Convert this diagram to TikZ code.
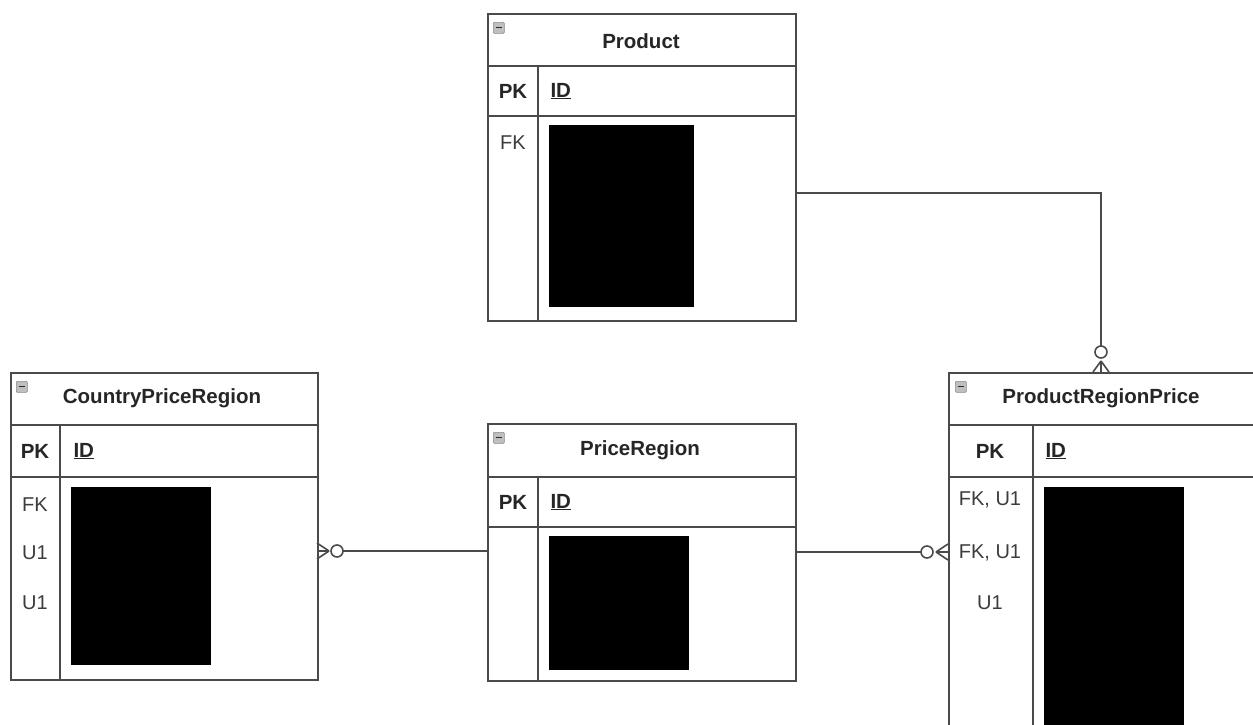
\documentclass[tikz,border=0pt]{standalone}
\usepackage{fontspec}
\setmainfont{Liberation Sans}
\definecolor{lc}{HTML}{4A4A4A}
\definecolor{tc}{HTML}{3C3C3C}
\definecolor{ic}{HTML}{8A8A8A}
\begin{document}
\begin{tikzpicture}[x=1pt,y=-1pt,
  conn/.style={draw=lc, line width=1.6pt},
  tbl/.style={draw=lc, line width=1.6pt, anchor=north west, inner sep=0pt, fill=white},
  sep/.style={draw=lc, line width=1.6pt},
  ttl/.style={font=\fontsize{20.5}{23}\selectfont\bfseries, text=black!85},
  key/.style={font=\fontsize{20}{23}\selectfont, text=tc},
  pk/.style={font=\fontsize{20.5}{23}\selectfont\bfseries, text=black!85},
  hid/.style={fill=black, draw=none, anchor=north west, inner sep=0pt},
  icon/.style={fill=ic!55, draw=ic, line width=0.7pt, rounded corners=1pt, anchor=north west, inner sep=0pt, minimum width=11pt, minimum height=11pt}
]
\useasboundingbox (0,0) rectangle (1253,724);

% ---------- Product ----------
\node[tbl, minimum width=308pt, minimum height=307pt] (product) at (487,13) {};
\node[icon] (producticon) at (493,22) {};
\draw[ic!30!black, line width=1pt] (495.5,27.5) -- (501.5,27.5);
\node[ttl] (producttitle) at (641,41) {Product};
\draw[sep] (487,66) -- (795,66);
\draw[sep] (487,116) -- (795,116);
\draw[sep] (538,66) -- (538,320);
\node[pk] (productpk) at (513,91) {PK};
\node[pk, anchor=west] (productid) at (547,91) {\underline{ID}};
\node[key] (productfk) at (513,143) {FK};
\node[hid, minimum width=145pt, minimum height=182pt] (producthid) at (549,125) {};

% ---------- CountryPriceRegion ----------
\node[tbl, minimum width=307pt, minimum height=307pt] (cpr) at (10,372) {};
\node[icon] (cpricon) at (16,381) {};
\draw[ic!30!black, line width=1pt] (18.5,386.5) -- (24.5,386.5);
\node[ttl] (cprtitle) at (162,398) {CountryPriceRegion};
\draw[sep] (10,425) -- (317,425);
\draw[sep] (10,477) -- (317,477);
\draw[sep] (60,425) -- (60,679);
\node[pk] (cprpk) at (35,451) {PK};
\node[pk, anchor=west] (cprid) at (70,451) {\underline{ID}};
\node[key] (cprfk) at (35,505) {FK};
\node[key] (cpru1a) at (35,553) {U1};
\node[key] (cpru1b) at (35,603) {U1};
\node[hid, minimum width=140pt, minimum height=178pt] (cprhid) at (71,487) {};

% ---------- PriceRegion ----------
\node[tbl, minimum width=308pt, minimum height=257pt] (pr) at (487,423) {};
\node[icon] (pricon) at (493,432) {};
\draw[ic!30!black, line width=1pt] (495.5,437.5) -- (501.5,437.5);
\node[ttl] (prtitle) at (640,450) {PriceRegion};
\draw[sep] (487,477) -- (795,477);
\draw[sep] (487,527) -- (795,527);
\draw[sep] (538,477) -- (538,680);
\node[pk] (prpk) at (513,502) {PK};
\node[pk, anchor=west] (prid) at (547,502) {\underline{ID}};
\node[hid, minimum width=140pt, minimum height=134pt] (prhid) at (549,536) {};

% ---------- ProductRegionPrice ----------
\node[tbl, minimum width=310pt, minimum height=380pt] (prp) at (948,372) {};
\node[icon] (prpicon) at (955,381) {};
\draw[ic!30!black, line width=1pt] (957.5,386.5) -- (963.5,386.5);
\node[ttl] (prptitle) at (1101,398) {ProductRegionPrice};
\draw[sep] (948,425) -- (1258,425);
\draw[sep] (948,477) -- (1258,477);
\draw[sep] (1033,425) -- (1033,730);
\node[pk] (prppk) at (990,451) {PK};
\node[pk, anchor=west] (prpid) at (1042,451) {\underline{ID}};
\node[key] (prpfk1) at (990,500) {FK, U1};
\node[key] (prpfk2) at (990,553) {FK, U1};
\node[key] (prpu1) at (990,603) {U1};
\node[hid, minimum width=140pt, minimum height=250pt] (prphid) at (1044,487) {};

% ---------- Connectors ----------
% Product -> ProductRegionPrice
\coordinate (pa) at (product.east |- 0,193);
\coordinate (pb) at (1101,193);
\coordinate (pc) at (1101,346);
\draw[conn] (pa) -- (pb) -- (pc);
\draw[conn, fill=white] (1101,352) circle (6pt);
\coordinate (pf) at (1101,361);
\draw[conn] (pf) -- (1093,372) (pf) -- (1101,372) (pf) -- (1109,372);

% CountryPriceRegion <- PriceRegion
\coordinate (ca) at (cpr.east |- 0,551);
\coordinate (cf) at (329,551);
\coordinate (cb) at (343,551);
\coordinate (cc) at (pr.west |- 0,551);
\draw[conn] (cb) -- (cc);
\draw[conn] (cf) -- (317,543) (cf) -- (ca) (cf) -- (317,559);
\draw[conn, fill=white] (337,551) circle (6pt);

% PriceRegion -> ProductRegionPrice
\coordinate (ra) at (pr.east |- 0,552);
\coordinate (rb) at (921,552);
\coordinate (rf) at (936,552);
\coordinate (rc) at (prp.west |- 0,552);
\draw[conn] (ra) -- (rb);
\draw[conn] (rf) -- (948,544) (rf) -- (rc) (rf) -- (948,560);
\draw[conn, fill=white] (927,552) circle (6pt);
\end{tikzpicture}
\end{document}
